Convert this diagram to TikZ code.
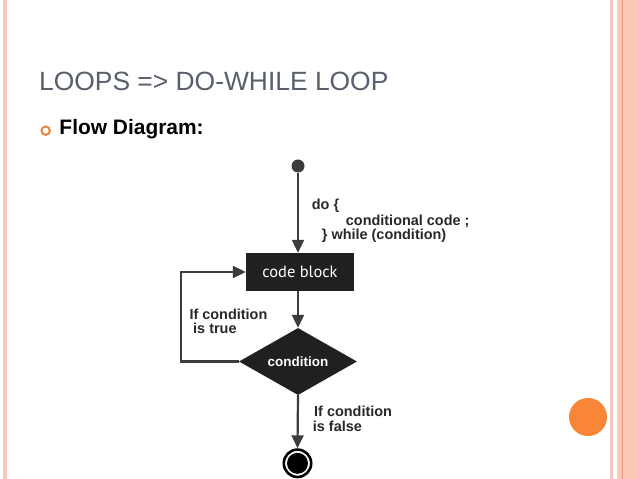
\documentclass[tikz,border=0pt]{standalone}
\usepackage{fontspec}
\setmainfont{Liberation Sans}
\newfontfamily\blockfont{PT Sans}
\usetikzlibrary{shapes.geometric,arrows.meta,calc}
\definecolor{titlegray}{RGB}{88,96,108}
\definecolor{linegray}{RGB}{60,60,60}
\definecolor{boxfill}{RGB}{32,32,32}
\definecolor{txtdark}{RGB}{40,40,40}
\definecolor{orng}{RGB}{249,134,54}
\definecolor{bulletorng}{RGB}{232,135,63}
\definecolor{pinkline}{RGB}{244,200,190}
\definecolor{salmonband}{RGB}{253,200,182}
\definecolor{salmonline}{RGB}{232,154,122}
\begin{document}
\begin{tikzpicture}[x=1bp,y=-1bp,
  arr/.style={draw=linegray,line width=2.2bp,-{Triangle[length=13bp,width=12bp]}},
  lbl/.style={inner sep=0,anchor=base west,text=txtdark,font=\fontsize{14.5}{15.5}\selectfont\bfseries},
]
\useasboundingbox (0,0) rectangle (638,479);
\fill[white] (0,0) rectangle (638,479);
% borders
\fill[pinkline] (3,0) rectangle (7,479);
\fill[pinkline] (610,0) rectangle (612.5,479);
\fill[salmonband] (617,0) rectangle (638,479);
\fill[salmonline] (621.5,0) rectangle (623,479);
% orange decoration
\fill[orng] (588,417) circle (19);
% title
\node[inner sep=0,anchor=base west,text=titlegray,font=\fontsize{26.5}{30}\selectfont] (title) at (39,90.7) {LOOPS => DO-WHILE LOOP};
\draw[bulletorng,line width=2bp] (45.7,130.7) circle (4.2);
\node[inner sep=0,anchor=base west,text=black,font=\fontsize{21}{24}\selectfont\bfseries] (sub) at (59.3,135) {Flow Diagram:};
% flow diagram
\node[circle,fill=linegray,inner sep=0,minimum size=13bp] (start) at (298,166) {};
\node[rectangle,fill=boxfill,inner sep=0,minimum width=108bp,minimum height=38bp,text=white,font=\blockfont\fontsize{16.5}{18}\selectfont] (code) at (300,272) {code block};
\node[diamond,fill=boxfill,inner sep=0,shape aspect=1.76,minimum width=118bp,minimum height=67bp,text=white,font=\fontsize{13.5}{15}\selectfont\bfseries] (cond) at (298,361.5) {condition};
\node[circle,draw=black,line width=2.6bp,fill=white,inner sep=0,minimum size=27.4bp] (endo) at (297.5,463.3) {};
\node[circle,fill=black,inner sep=0,minimum size=21bp] (endi) at (endo.center) {};
\draw[arr] (start.south) -- (start |- code.north);
\draw[arr] (cond.north |- code.south) -- (cond.north);
\draw[arr] (cond.west) -- ++(-58,0) |- (code.west);
\draw[arr] (cond.south) -- (endo.north);
% labels
\node[lbl] (l1) at (311.7,210) {do \{};
\node[lbl] (l2) at (345.7,225.5) {conditional code ;};
\node[lbl] (l3) at (321.7,240) {\} while (condition)};
\node[lbl] (t1) at (189.3,319) {If condition};
\node[lbl] (t2) at (193,333) {is true};
\node[lbl] (f1) at (314,416) {If condition};
\node[lbl] (f2) at (312.7,431.5) {is false};
\end{tikzpicture}
\end{document}
